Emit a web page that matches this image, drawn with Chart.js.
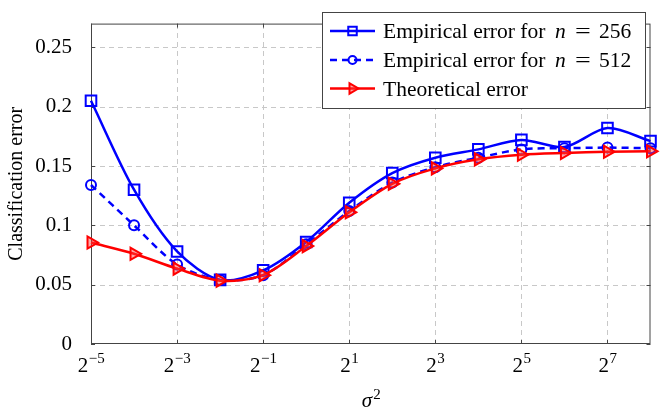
<!DOCTYPE html>
<html>
<head>
<meta charset="utf-8">
<script src="https://cdn.jsdelivr.net/npm/chart.js@4"></script>
<style>
	html, body { margin: 0; padding: 0; background: #fff; }
</style>
</head>
<body>
<canvas id="myChart" width="660" height="415"></canvas>
<script>
// log2(sigma^2)
const exponents = [-5, -4, -3, -2, -1, 0, 1, 2, 3, 4, 5, 6, 7, 8];
const err256 = [0.205, 0.130, 0.078, 0.054, 0.062, 0.086, 0.119, 0.144, 0.157, 0.164, 0.172, 0.166, 0.182, 0.171];
const err512 = [0.134, 0.100, 0.067, 0.054, 0.058, 0.084, 0.112, 0.136, 0.149, 0.157, 0.164, 0.165, 0.1655, 0.165];
const errTheory = [0.0855, 0.076, 0.0635, 0.0534, 0.058, 0.0825, 0.111, 0.135, 0.148, 0.1556, 0.1595, 0.161, 0.162, 0.1624];
const xTicks = [-5, -3, -1, 1, 3, 5, 7];
const yTicks = [0, 0.05, 0.1, 0.15, 0.2, 0.25];
const legendLabels = ['Empirical error for', 'Empirical error for', 'Theoretical error'];
const legendN = ['256', '512', null];

const SERIF = '"Liberation Serif", "Times New Roman", serif';
const toPts = (ys) => exponents.map((e, i) => ({ x: e, y: ys[i] }));

// текст, растянутый по ширине
function wideText(ctx, str, x, y, sx) {
	ctx.save();
	ctx.translate(x, y);
	ctx.scale(sx, 1);
	ctx.fillText(str, 0, 0);
	ctx.restore();
}

// сетка, рамка и засечки как в pgfplots
const framePlugin = {
	id: 'frame',
	beforeDatasetsDraw(chart) {
		const { ctx, chartArea: a, scales } = chart;
		ctx.save();
		ctx.strokeStyle = '#c8c8c8';
		ctx.lineWidth = 1;
		ctx.setLineDash([5, 4]);
		ctx.beginPath();
		xTicks.slice(1).forEach(t => {
			const x = Math.round(scales.x.getPixelForValue(t)) + 0.5;
			ctx.moveTo(x, a.bottom); ctx.lineTo(x, a.top);
		});
		yTicks.slice(1).forEach(t => {
			const y = Math.round(scales.y.getPixelForValue(t)) + 0.5;
			ctx.moveTo(a.left, y); ctx.lineTo(a.right, y);
		});
		ctx.stroke();

		ctx.strokeStyle = '#444';
		ctx.setLineDash([]);
		ctx.strokeRect(a.left + 0.5, a.top + 0.5, a.right - a.left - 1, a.bottom - a.top - 1);
		ctx.beginPath();
		xTicks.forEach(t => {
			const x = Math.round(scales.x.getPixelForValue(t)) + 0.5;
			ctx.moveTo(x, a.bottom); ctx.lineTo(x, a.bottom - 4);
			ctx.moveTo(x, a.top); ctx.lineTo(x, a.top + 4);
		});
		yTicks.forEach(t => {
			const y = Math.round(scales.y.getPixelForValue(t)) + 0.5;
			ctx.moveTo(a.left, y); ctx.lineTo(a.left + 4, y);
			ctx.moveTo(a.right, y); ctx.lineTo(a.right - 4, y);
		});
		ctx.stroke();
		ctx.restore();
	},
	afterDraw(chart) {
		const { ctx, chartArea: a, scales } = chart;
		ctx.save();
		ctx.fillStyle = '#000';
		ctx.textBaseline = 'alphabetic';
		ctx.textAlign = 'left';
		// подписи оси x: 2^k
		xTicks.forEach(t => {
			const x = scales.x.getPixelForValue(t);
			const exp = (t < 0 ? '\u2212' : '') + Math.abs(t);
			ctx.font = '21px ' + SERIF;
			const wb = ctx.measureText('2').width;
			ctx.font = '15px ' + SERIF;
			const we = ctx.measureText(exp).width;
			const x0 = x - (wb + we) / 2;
			ctx.font = '21px ' + SERIF;
			ctx.fillText('2', x0, 372);
			ctx.font = '15px ' + SERIF;
			ctx.fillText(exp, x0 + wb + 0.5, 363);
		});
		// sigma^2
		ctx.font = 'italic 21px ' + SERIF;
		const ws = ctx.measureText('\u03c3').width;
		ctx.font = '15px ' + SERIF;
		const w2 = ctx.measureText('2').width;
		const cx = (a.left + a.right) / 2 - (ws + w2) / 2;
		ctx.font = 'italic 21px ' + SERIF;
		ctx.fillText('\u03c3', cx, 407);
		ctx.font = '15px ' + SERIF;
		ctx.fillText('2', cx + ws + 1, 399);

		// легенда
		const bx = 322, by = 12, bw = 323, bh = 96;
		ctx.fillStyle = '#fff';
		ctx.fillRect(bx, by, bw, bh);
		ctx.strokeStyle = '#444';
		ctx.lineWidth = 1;
		ctx.strokeRect(bx + 0.5, by + 0.5, bw, bh);
		const rows = [31, 60, 88.5];
		chart.data.datasets.forEach((ds, i) => {
			const y = rows[i];
			ctx.strokeStyle = ds.borderColor;
			ctx.lineWidth = 2.5;
			ctx.setLineDash(ds.borderDash || []);
			ctx.beginPath();
			ctx.moveTo(330, y); ctx.lineTo(375, y);
			ctx.stroke();
			ctx.setLineDash([]);
			ctx.fillStyle = ds.backgroundColor;
			ctx.lineWidth = 2;
			Chart.helpers.drawPoint(ctx, {
				pointStyle: ds.pointStyle,
				radius: ds.legendRadius,
				rotation: ds.pointRotation || 0,
				borderWidth: 2
			}, 352.5, y);
			ctx.fillStyle = '#000';
			ctx.font = '21.5px ' + SERIF;
			ctx.fillText(legendLabels[i], 383, y + 7);
			if (legendN[i]) {
				ctx.font = 'italic 21.5px ' + SERIF;
				ctx.fillText('n', 555, y + 7);
				ctx.font = '21.5px ' + SERIF;
				wideText(ctx, '=', 575, y + 7, 1.3);
				ctx.fillText(legendN[i], 599, y + 7);
			}
		});
		ctx.restore();
	}
};

const data = {
	datasets: [
		{
			label: 'Empirical error for n = 256',
			data: toPts(err256),
			borderColor: '#0000ff',
			backgroundColor: 'rgba(0,0,0,0)',
			borderWidth: 2.5,
			pointStyle: 'rect',
			pointRadius: 7.5,
			pointBorderWidth: 2,
			legendRadius: 6,
			tension: 0.3,
			order: 2
		},
		{
			label: 'Empirical error for n = 512',
			data: toPts(err512),
			borderColor: '#0000ff',
			backgroundColor: 'rgba(0,0,0,0)',
			borderWidth: 2.5,
			borderDash: [7, 5],
			pointStyle: 'circle',
			pointRadius: 5,
			pointBorderWidth: 2,
			legendRadius: 4,
			tension: 0.3,
			order: 1
		},
		{
			label: 'Theoretical error',
			data: toPts(errTheory),
			borderColor: '#ff0000',
			backgroundColor: 'rgba(255,60,60,0.45)',
			borderWidth: 2.5,
			pointStyle: 'triangle',
			pointRotation: 90,
			pointRadius: 7,
			pointBorderWidth: 2,
			legendRadius: 6,
			tension: 0.3,
			order: 0
		}
	]
};

const config = {
	type: 'line',
	data: data,
	options: {
		responsive: false,
		animation: false,
		devicePixelRatio: 1,
		clip: false,
		layout: { padding: { top: 5, right: 3, left: 0, bottom: 0 } },
		plugins: { legend: { display: false }, tooltip: { enabled: false } },
		scales: {
			x: {
				type: 'linear',
				min: -5,
				max: 8,
				afterBuildTicks: (s) => { s.ticks = xTicks.map(v => ({ value: v })); },
				afterFit: (s) => { s.height = 71; },
				ticks: { display: false },
				grid: { display: false },
				border: { display: false }
			},
			y: {
				min: 0,
				max: 0.27,
				afterBuildTicks: (s) => { s.ticks = yTicks.map(v => ({ value: v })); },
				afterFit: (s) => { s.width = 91; },
				ticks: {
					padding: 11,
					color: '#000',
					font: { family: SERIF, size: 21 },
					callback: (v) => String(Number(v.toFixed(2)))
				},
				grid: { display: false },
				border: { display: false },
				title: {
					display: true,
					text: 'Classification error',
					color: '#000',
					font: { family: SERIF, size: 20 },
					padding: { top: 5, bottom: 0 }
				}
			}
		}
	},
	plugins: [framePlugin]
};

const myChart = new Chart(document.getElementById('myChart'), config);
</script>
</body>
</html>
